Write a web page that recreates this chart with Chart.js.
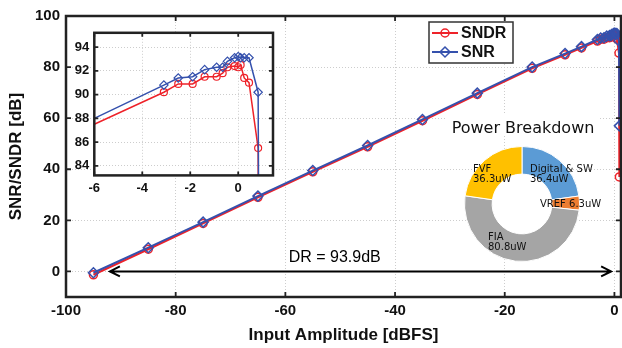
<!DOCTYPE html>
<html>
<head>
  <title>SNR/SNDR vs Input Amplitude</title>
  <script src="https://cdn.jsdelivr.net/npm/chart.js"></script>
  <style>
    body {
      margin: 0;
      background: #fff;
      font-family: "Liberation Sans", Arial;
    }

    #wrap {
      position: relative;
      width: 622px;
      height: 348px;
    }

    canvas {
      position: absolute;
    }

    #mainChart { left: 0; top: 0; }
    #insetChart { left: 64px; top: 20px; }
    #pieChart { left: 464px; top: 146px; }

    #pieTitle {
      position: absolute;
      left: 446px;
      top: 115px;
      width: 154px;
      padding-top: 5px;
      text-align: center;
      font-family: "DejaVu Sans";
      font-size: 16px;
      line-height: 16px;
      background: #fff;
      color: #111;
    }

    .lbl {
      position: absolute;
      font-family: "DejaVu Sans";
      font-size: 10px;
      line-height: 10px;
      color: #111;
      white-space: nowrap;
    }
  </style>
</head>
<body>
  <div id="wrap">
    <canvas id="mainChart" width="622" height="348"></canvas>
    <canvas id="insetChart" width="214" height="184"></canvas>
    <div id="pieTitle">Power Breakdown</div>
    <canvas id="pieChart" width="116" height="116"></canvas>
  </div>

  <script>
    // measured points (dBFS -> dB)
    const inputAmp = [-95, -85, -75, -65, -55, -45, -35, -25, -15, -9, -6,
                      -3.1, -2.5, -1.9, -1.4, -0.9, -0.65, -0.45, -0.15, 0, 0.1, 0.25, 0.45, 0.83, 0.9];
    const snr  = [-0.5, 9.3, 19.3, 29.5, 39.5, 49.3, 59.5, 69.8, 80.0, 85.3, 88.0,
                  90.8, 91.4, 91.5, 92.1, 92.3, 92.3, 92.8, 93.1, 93.2, 93.1, 93.1, 93.1, 90.2, 57];
    const sndr = [-1.3, 8.7, 18.8, 29.0, 39.0, 48.8, 59.0, 69.3, 79.5, 84.8, 87.5,
                  90.2, 90.9, 90.9, 91.5, 91.5, 91.8, 92.3, 92.4, 92.3, 92.5, 91.4, 91.0, 85.5, 37];

    const xTicks = [-100, -80, -60, -40, -20, 0];
    const yTicks = [0, 20, 40, 60, 80, 100];
    const insetXTicks = [-6, -4, -2, 0];
    const insetYTicks = [84, 86, 88, 90, 92, 94];

    const drRange = [-92, -0.6];
    const drText = 'DR = 93.9dB';

    const pieLabels = ['Digital & SW', 'VREF', 'FIA', 'FVF'];
    const pieValues = [36.4, 6.3, 80.8, 36.3];
    const pieColors = ['#5b9bd5', '#ed7d31', '#a5a5a5', '#ffc000'];

    const RED = '#ee2229';
    const BLUE = '#3551ad';
    const INK = '#111';

    Chart.defaults.font.family = '"Liberation Sans", Arial';
    Chart.defaults.color = INK;

    function pts(ys) {
      return inputAmp.map((x, i) => ({ x: x, y: ys[i] }));
    }

    function fixTicks(list) {
      return s => { s.ticks = list.map(v => ({ value: v })); };
    }

    // MATLAB style box with inward ticks
    function boxPlugin(len, lw) {
      return {
        id: 'box',
        beforeDraw(chart) {
          const a = chart.chartArea, c = chart.ctx;
          c.save();
          c.fillStyle = '#fff';
          c.fillRect(a.left, a.top, a.right - a.left, a.bottom - a.top);
          c.restore();
        },
        afterDatasetsDraw(chart) {
          const a = chart.chartArea, c = chart.ctx;
          const sx = chart.scales.x, sy = chart.scales.y;
          c.save();
          c.strokeStyle = '#222';
          c.lineWidth = 1.8;
          c.beginPath();
          sx.ticks.forEach(t => {
            const p = sx.getPixelForValue(t.value);
            c.moveTo(p, a.bottom); c.lineTo(p, a.bottom - len);
            c.moveTo(p, a.top); c.lineTo(p, a.top + len);
          });
          sy.ticks.forEach(t => {
            const p = sy.getPixelForValue(t.value);
            c.moveTo(a.left, p); c.lineTo(a.left + len, p);
            c.moveTo(a.right, p); c.lineTo(a.right - len, p);
          });
          c.stroke();
          c.lineWidth = lw;
          c.strokeRect(a.left, a.top, a.right - a.left, a.bottom - a.top);
          c.restore();
        }
      };
    }

    const drPlugin = {
      id: 'dr',
      afterDatasetsDraw(chart) {
        const c = chart.ctx, sx = chart.scales.x, sy = chart.scales.y;
        const y0 = sy.getPixelForValue(0);
        const x1 = sx.getPixelForValue(drRange[0]);
        const x2 = sx.getPixelForValue(drRange[1]);
        c.save();
        c.strokeStyle = '#000';
        c.lineWidth = 2;
        c.beginPath();
        c.moveTo(x1, y0); c.lineTo(x2, y0);
        c.moveTo(x1 + 10, y0 - 5); c.lineTo(x1, y0); c.lineTo(x1 + 10, y0 + 5);
        c.moveTo(x2 - 10, y0 - 5); c.lineTo(x2, y0); c.lineTo(x2 - 10, y0 + 5);
        c.stroke();
        c.fillStyle = '#000';
        c.font = '16px "Liberation Sans", Arial';
        c.textAlign = 'center';
        c.textBaseline = 'middle';
        c.fillText(drText, sx.getPixelForValue(-51), sy.getPixelForValue(5.3));
        c.restore();
      }
    };

    const legendPlugin = {
      id: 'legendBox',
      afterDraw(chart) {
        const c = chart.ctx;
        c.save();
        c.fillStyle = '#fff';
        c.fillRect(429, 22, 84, 41);
        c.strokeStyle = '#333';
        c.lineWidth = 1.5;
        c.strokeRect(429, 22, 84, 41);
        const rows = [
          { y: 33, color: RED, name: 'SNDR', style: 'circle' },
          { y: 52, color: BLUE, name: 'SNR', style: 'diamond' }
        ];
        rows.forEach(r => {
          c.strokeStyle = r.color;
          c.lineWidth = 2;
          c.beginPath();
          c.moveTo(432, r.y); c.lineTo(458, r.y);
          c.stroke();
          c.lineWidth = 1.5;
          c.beginPath();
          if (r.style === 'circle') {
            c.arc(445, r.y, 4, 0, Math.PI * 2);
          } else {
            c.moveTo(445, r.y - 5); c.lineTo(450, r.y);
            c.lineTo(445, r.y + 5); c.lineTo(440, r.y); c.closePath();
          }
          c.stroke();
          c.fillStyle = INK;
          c.font = 'bold 16px "Liberation Sans", Arial';
          c.textAlign = 'left';
          c.textBaseline = 'middle';
          c.fillText(r.name, 461, r.y + 1);
        });
        c.restore();
      }
    };

    function axis(min, max, ticks, fit, isX, title, fontSize, pad) {
      return {
        type: 'linear',
        min: min,
        max: max,
        afterBuildTicks: fixTicks(ticks),
        afterFit: s => {
          if (isX) {
            s.height = fit;
            s.paddingLeft = 0;
            s.paddingRight = 0;
          } else {
            s.width = fit;
          }
        },
        grid: { color: '#cdcdcd', lineWidth: 1, drawTicks: false },
        border: { display: false, dash: [1, 2] },
        ticks: { padding: pad, color: INK, font: { size: fontSize, weight: 'bold' } },
        title: title ? {
          display: true, text: title, color: INK,
          font: { size: 17, weight: 'bold' },
          padding: isX ? 0 : { top: 4, bottom: 0 }
        } : { display: false }
      };
    }

    new Chart(document.getElementById('mainChart'), {
      type: 'line',
      data: {
        datasets: [{
          label: 'SNR',
          data: pts(snr),
          order: 0,
          borderColor: BLUE,
          borderWidth: 2,
          pointStyle: 'rectRot',
          pointRadius: 5,
          pointBorderWidth: 1.5,
          pointBackgroundColor: 'rgba(0,0,0,0)',
          pointBorderColor: BLUE,
          tension: 0
        }, {
          label: 'SNDR',
          data: pts(sndr),
          order: 1,
          borderColor: RED,
          borderWidth: 2,
          pointStyle: 'circle',
          pointRadius: 4,
          pointBorderWidth: 1.5,
          pointBackgroundColor: 'rgba(0,0,0,0)',
          pointBorderColor: RED,
          tension: 0
        }]
      },
      options: {
        responsive: false,
        animation: false,
        events: [],
        layout: { autoPadding: false, padding: { left: 2, top: 16, right: 1, bottom: 2 } },
        plugins: { legend: { display: false }, tooltip: { enabled: false } },
        scales: {
          x: axis(-100, 1.2, xTicks, 49, true, 'Input Amplitude [dBFS]', 15, 5),
          y: axis(-10, 100, yTicks, 64, false, 'SNR/SNDR [dB]', 15, 6)
        }
      },
      plugins: [boxPlugin(5, 2.5), drPlugin, legendPlugin]
    });

    // zoomed view around full scale
    const hideOutside = ctx => (inputAmp[ctx.dataIndex] <= -6 ? 0 : undefined);

    new Chart(document.getElementById('insetChart'), {
      type: 'line',
      data: {
        datasets: [{
          data: pts(snr),
          order: 0,
          borderColor: BLUE,
          borderWidth: 1.5,
          pointStyle: 'rectRot',
          pointRadius: ctx => (hideOutside(ctx) === 0 ? 0 : 4.2),
          pointBorderWidth: 1.2,
          pointBackgroundColor: 'rgba(0,0,0,0)',
          pointBorderColor: BLUE
        }, {
          data: pts(sndr),
          order: 1,
          borderColor: RED,
          borderWidth: 1.5,
          pointStyle: 'circle',
          pointRadius: ctx => (hideOutside(ctx) === 0 ? 0 : 3.5),
          pointBorderWidth: 1.2,
          pointBackgroundColor: 'rgba(0,0,0,0)',
          pointBorderColor: RED
        }]
      },
      options: {
        responsive: false,
        animation: false,
        events: [],
        layout: { autoPadding: false, padding: { left: 2, top: 9, right: 5, bottom: 4 } },
        plugins: { legend: { display: false }, tooltip: { enabled: false } },
        scales: {
          x: axis(-6, 1.45, insetXTicks, 24.6, true, null, 13, 5),
          y: axis(83.2, 95.2, insetYTicks, 28.3, false, null, 13, 5)
        }
      },
      plugins: [boxPlugin(4, 2.5)]
    });

    // power breakdown donut
    const whiteDisc = {
      id: 'whiteDisc',
      beforeDatasetsDraw(chart) {
        const arc = chart.getDatasetMeta(0).data[0];
        const c = chart.ctx;
        c.save();
        c.fillStyle = '#fff';
        c.beginPath();
        c.arc(arc.x, arc.y, arc.outerRadius, 0, Math.PI * 2);
        c.fill();
        c.restore();
      }
    };

    new Chart(document.getElementById('pieChart'), {
      type: 'doughnut',
      data: {
        labels: pieLabels,
        datasets: [{
          data: pieValues,
          backgroundColor: pieColors,
          borderColor: '#fff',
          borderWidth: 1
        }]
      },
      options: {
        responsive: false,
        animation: false,
        events: [],
        cutout: '52%',
        plugins: { legend: { display: false }, tooltip: { enabled: false } }
      },
      plugins: [whiteDisc]
    });

    // slice labels
    const labelSpots = [[530, 164, true], [540, 199, false], [488, 232, true], [473, 164, true]];
    const wrap = document.getElementById('wrap');
    pieLabels.forEach((name, i) => {
      const d = document.createElement('div');
      d.className = 'lbl';
      d.style.left = labelSpots[i][0] + 'px';
      d.style.top = labelSpots[i][1] + 'px';
      const val = pieValues[i].toFixed(1) + 'uW';
      d.innerHTML = labelSpots[i][2] ? name.replace('&', '&amp;') + '<br>' + val : name + ' ' + val;
      wrap.appendChild(d);
    });
  </script>
</body>
</html>
